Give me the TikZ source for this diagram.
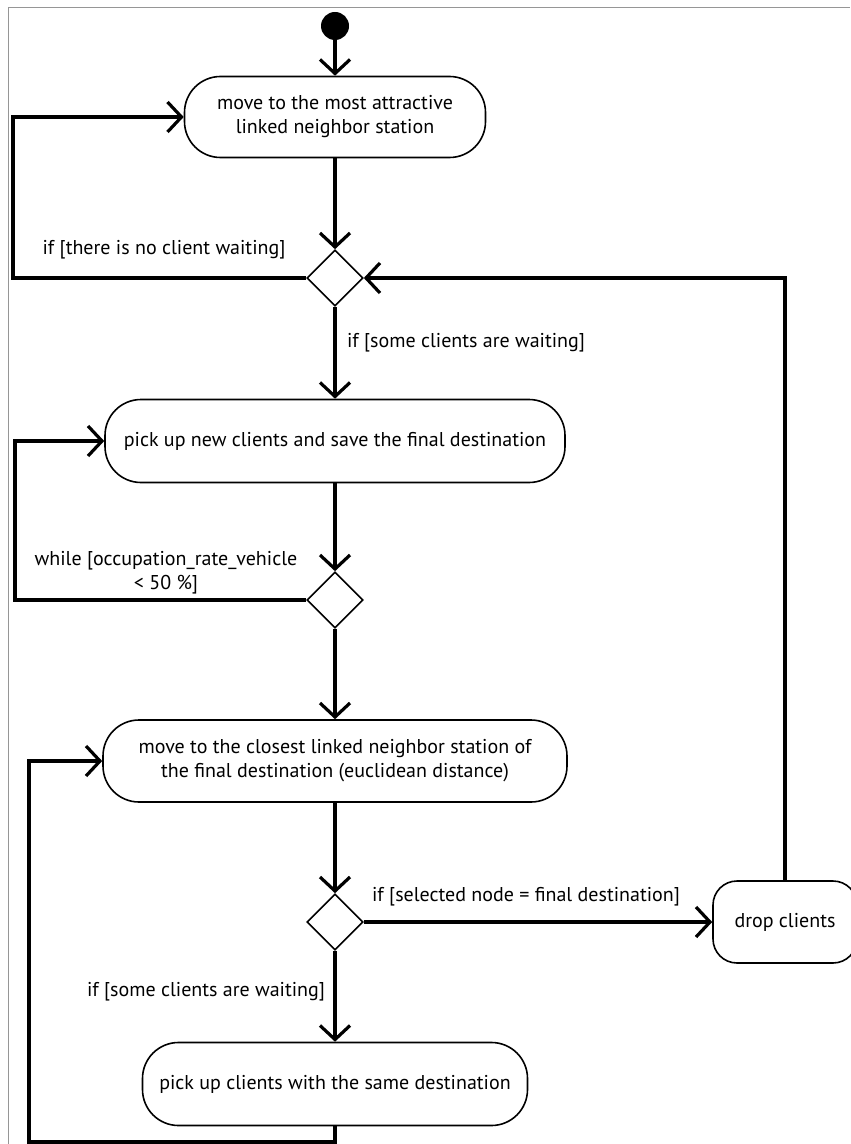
\documentclass[tikz,border=0pt]{standalone}
\usepackage{fontspec}
\setmainfont{PT Sans}
\usepackage{tikz}
\usetikzlibrary{arrows.meta,shapes.geometric}
\definecolor{framegray}{RGB}{150,150,150}

\begin{document}
\begin{tikzpicture}[x=0.5pt, y=-0.5pt,
    action/.style={draw, line width=0.8pt, rounded corners=18pt, align=center, inner sep=0pt},
    decision/.style={draw, diamond, line width=0.8pt, minimum width=28pt, minimum height=28pt, inner sep=0pt},
    flow/.style={line width=1.6pt, -{Straight Barb[length=7pt,width=15pt]}},
    guard/.style={align=center}]
    % Frame
    \useasboundingbox (0,0) rectangle (850,1144);
    \draw[framegray, line width=0.5pt] (8,1144) -- (8,8) -- (850,8);

    % Activities
    \node[circle, fill=black, minimum size=14pt, inner sep=0pt] (start) at (335,26) {};
    \node[action, minimum width=150.5pt, minimum height=40.5pt] (a1) at (335,117) {move to the most attractive\\linked neighbor station};
    \node[decision] (d1) at (335,278) {};
    \node[action, minimum width=230pt, minimum height=41.5pt] (a2) at (335,441) {pick up new clients and save the final destination};
    \node[decision] (d2) at (335,600) {};
    \node[action, minimum width=232pt, minimum height=41pt] (a3) at (335,761) {move to the closest linked neighbor station of\\the final destination (euclidean distance)};
    \node[decision] (d3) at (335,922) {};
    \node[action, rounded corners=12pt, minimum width=72pt, minimum height=41pt] (drop) at (785,922) {drop clients};
    \node[action, minimum width=192.5pt, minimum height=41.5pt] (a4) at (335,1084) {pick up clients with the same destination};

    % Loop corners
    \coordinate (left1) at (13,200);
    \coordinate (left2) at (15,520);
    \coordinate (left3) at (29,1142);

    % Flows
    \draw[flow] (start) -- (a1);
    \draw[flow] (a1) -- (d1);
    \draw[flow] (d1) -- (a2);
    \draw[flow] (a2) -- (d2);
    \draw[flow] (d2) -- (a3);
    \draw[flow] (a3) -- (d3);
    \draw[flow] (d3) -- (drop);
    \draw[flow] (d3) -- (a4);
    \draw[flow] (d1.west) -| (left1) |- (a1.west);
    \draw[flow] (d2.west) -| (left2) |- (a2.west);
    \draw[flow] (drop.north) |- (d1.east);
    \draw[flow] (a4.south) |- (left3) |- (a3.west);

    % Guards
    \node[guard] (g1) at (164,250) {if [there is no client waiting]};
    \node[guard] (g2) at (466,343) {if [some clients are waiting]};
    \node[guard] (g3) at (166,573) {while [occupation\_rate\_vehicle\\< 50 \%]};
    \node[guard] (g4) at (526,897) {if [selected node = final destination]};
    \node[guard] (g5) at (206,992) {if [some clients are waiting]};
\end{tikzpicture}
\end{document}
